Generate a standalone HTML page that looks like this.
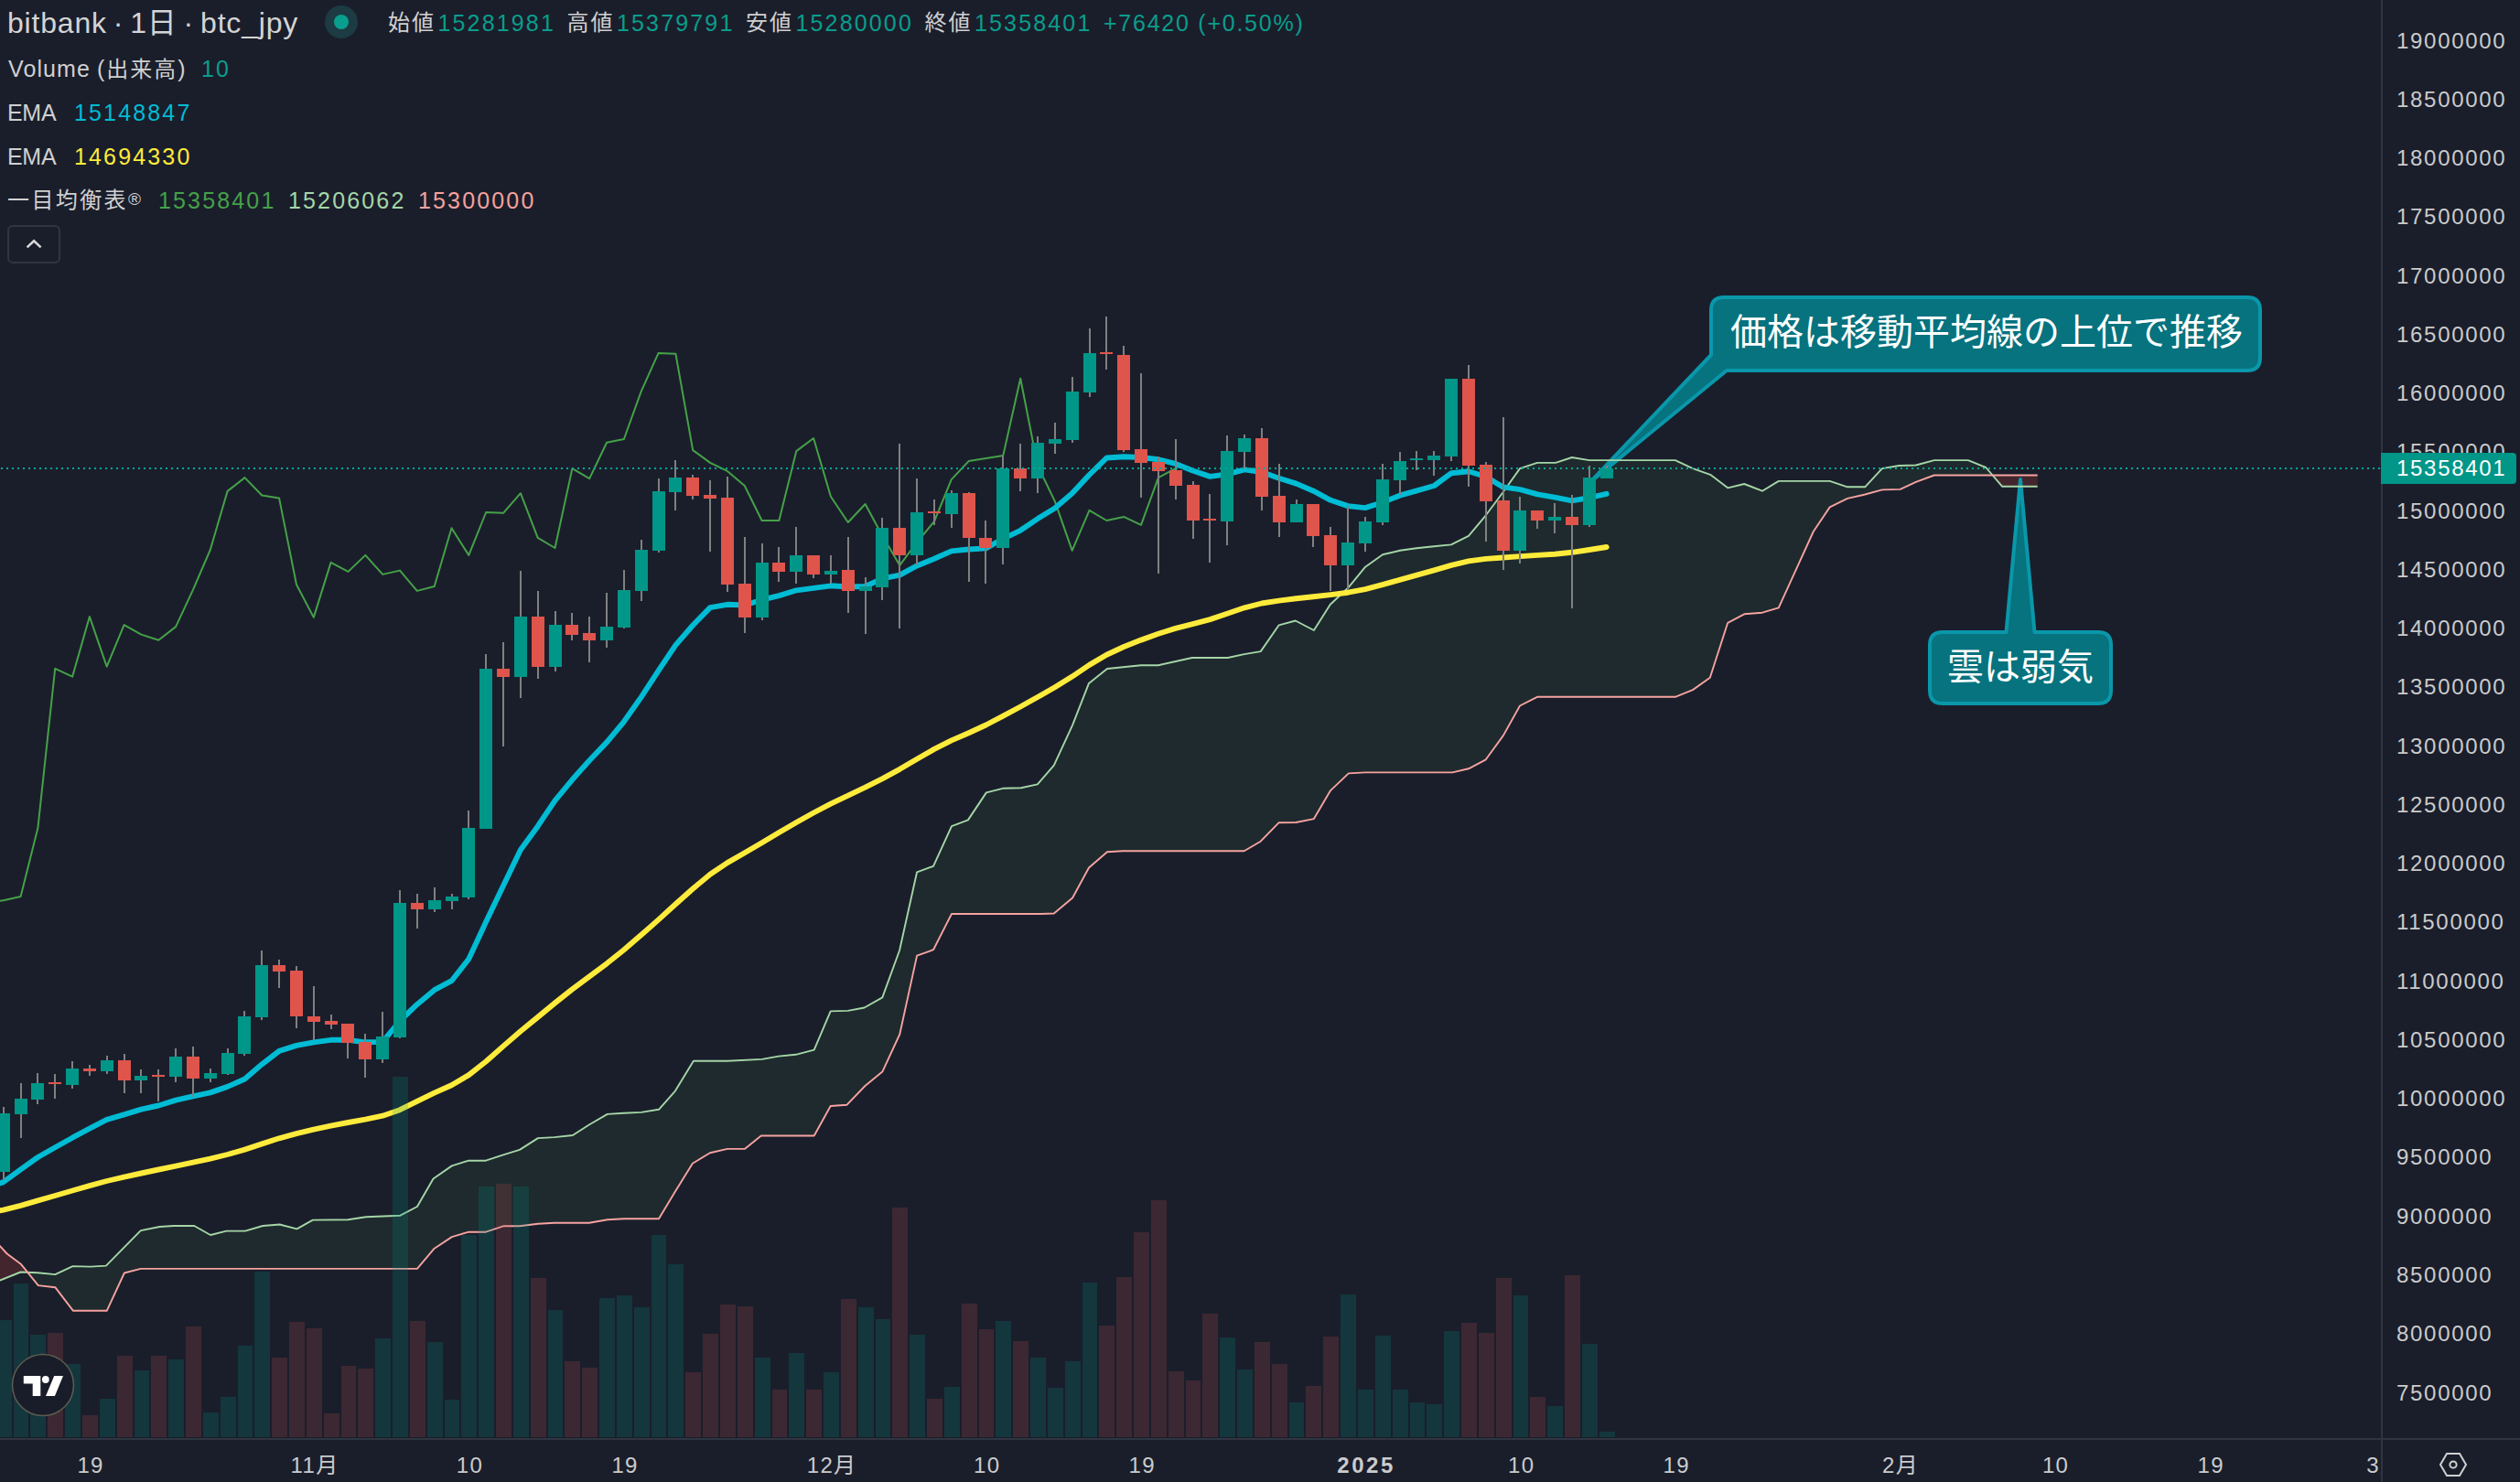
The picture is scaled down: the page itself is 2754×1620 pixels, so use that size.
<!DOCTYPE html><html lang="ja"><head><meta charset="utf-8"><title>bitbank btc_jpy</title><style>
html,body{margin:0;padding:0}body{width:2754px;height:1620px;background:#1a1e2b;overflow:hidden;position:relative;font-family:"Liberation Sans","Noto Sans CJK JP",sans-serif;color:#cfcfcf}
.t{position:absolute;white-space:nowrap;line-height:1}
.ax{font-size:24px;letter-spacing:1.7px;color:#cbcbcb;left:2619px}
.tm{font-size:24px;letter-spacing:1.35px;color:#cbcbcb;transform:translateX(-50%);top:1590px}
.lg{font-size:25px;letter-spacing:2.15px;color:#d0d0d0}.lb{font-size:25px;letter-spacing:0;color:#d0d0d0}
.v{color:#0a9d8c}
.co{font-size:40px;color:#fff;letter-spacing:0}
</style></head><body>
<svg width="2754" height="1620" viewBox="0 0 2754 1620" style="position:absolute;left:0;top:0">
<defs><clipPath id="cp"><rect x="0" y="0" width="2602" height="1572"/></clipPath>
<pattern id="hr" width="4" height="4" patternUnits="userSpaceOnUse"><rect width="4" height="4" fill="rgba(244,67,54,0.15)"/><rect width="2" height="2" fill="rgba(244,67,54,0.09)"/><rect x="2" y="2" width="2" height="2" fill="rgba(244,67,54,0.09)"/></pattern>
</defs>
<g clip-path="url(#cp)">
<path d="M-5.1 1401.3 L0.0 1399.5 L7.7 1396.4 L22.6 1390.5 L23.1 1390.5 L30.2 1390.8 L30.2 1390.8 L23.1 1382.1 L22.6 1381.7 L7.7 1370.5 L0.0 1362.1 L-5.1 1357.7Z" fill="url(#hr)"/>
<path d="M30.2 1390.8 L41.0 1391.3 L41.8 1391.4 L60.3 1393.1 L79.5 1384.1 L80.0 1384.1 L98.7 1384.6 L115.9 1383.6 L116.7 1382.8 L135.9 1363.3 L153.8 1345.1 L174.4 1341.0 L189.7 1340.0 L212.3 1340.0 L230.0 1350.0 L247.4 1345.6 L267.9 1345.6 L287.2 1340.0 L305.6 1338.5 L324.4 1343.3 L341.8 1333.6 L380.3 1333.3 L400.0 1330.3 L437.4 1328.7 L455.9 1319.0 L473.5 1288.5 L474.7 1287.6 L493.8 1274.4 L512.1 1268.7 L531.0 1268.7 L550.0 1262.3 L567.9 1256.9 L587.9 1244.1 L605.9 1243.1 L625.9 1241.0 L643.8 1229.5 L663.8 1217.9 L681.8 1216.7 L700.8 1215.9 L720.0 1212.8 L737.9 1192.6 L756.9 1161.4 L757.9 1159.7 L775.9 1159.7 L794.9 1159.7 L813.8 1158.8 L831.8 1158.0 L832.8 1157.9 L850.8 1154.6 L869.7 1152.8 L889.7 1147.7 L907.7 1105.4 L925.6 1104.9 L926.7 1104.9 L944.6 1101.5 L945.4 1101.1 L964.3 1090.4 L983.1 1038.7 L983.3 1037.8 L1002.1 953.3 L1020.0 946.9 L1040.0 903.1 L1057.9 896.4 L1077.9 866.4 L1095.9 861.8 L1115.9 861.3 L1133.8 857.4 L1137.4 853.3 L1151.8 836.7 L1172.1 792.6 L1190.0 746.9 L1210.0 731.0 L1226.9 729.3 L1246.9 727.2 L1265.9 727.2 L1302.8 719.0 L1341.8 719.0 L1359.7 715.1 L1377.7 712.1 L1397.7 683.3 L1415.8 678.5 L1416.3 678.7 L1435.9 689.0 L1453.8 660.8 L1473.1 642.8 L1473.8 641.9 L1492.1 619.7 L1511.0 606.2 L1530.0 601.8 L1547.9 599.2 L1566.9 597.2 L1585.9 595.4 L1587.2 594.7 L1604.9 585.9 L1623.8 563.3 L1642.8 537.7 L1661.0 512.1 L1680.0 505.9 L1700.0 505.9 L1717.9 500.0 L1736.9 503.1 L1830.8 503.1 L1850.0 512.1 L1868.8 518.8 L1869.1 518.8 L1888.2 533.3 L1906.2 529.0 L1925.9 536.7 L1943.8 525.9 L1962.6 525.9 L1981.8 525.9 L1999.7 525.9 L2019.0 532.3 L2038.2 532.3 L2056.9 512.1 L2075.4 509.0 L2076.7 508.9 L2093.8 508.5 L2113.8 503.1 L2151.0 503.1 L2170.3 511.0 L2177.6 519.5 L2177.6 519.5 L2170.3 519.5 L2151.0 519.5 L2113.8 519.5 L2093.8 526.9 L2076.7 534.9 L2075.4 534.9 L2056.9 535.4 L2038.2 540.5 L2019.0 544.9 L1999.7 554.4 L1981.8 581.0 L1962.6 623.1 L1943.8 664.4 L1925.9 669.7 L1906.2 671.3 L1888.2 680.8 L1869.1 740.0 L1868.8 740.8 L1850.0 754.1 L1830.8 761.8 L1736.9 761.8 L1717.9 761.8 L1700.0 761.8 L1680.0 761.8 L1661.0 771.5 L1642.8 804.1 L1623.8 830.3 L1604.9 840.3 L1587.2 844.4 L1585.9 844.4 L1566.9 844.4 L1547.9 844.4 L1530.0 844.4 L1511.0 844.4 L1492.1 844.4 L1473.8 845.4 L1473.1 846.1 L1453.8 864.4 L1435.9 895.1 L1416.3 899.0 L1415.8 899.0 L1397.7 899.2 L1377.7 919.7 L1359.7 930.3 L1341.8 930.3 L1302.8 930.3 L1265.9 930.3 L1246.9 930.3 L1226.9 930.3 L1210.0 931.3 L1190.0 948.5 L1172.1 981.5 L1151.8 998.5 L1137.4 999.0 L1133.8 999.0 L1115.9 999.0 L1095.9 999.0 L1077.9 999.0 L1057.9 999.0 L1040.0 999.0 L1020.0 1038.2 L1002.1 1044.6 L983.3 1130.5 L983.1 1130.9 L964.3 1171.6 L945.4 1187.0 L944.6 1187.8 L926.7 1206.6 L925.6 1207.7 L907.7 1209.0 L889.7 1241.5 L869.7 1241.5 L850.8 1241.5 L832.8 1241.5 L831.8 1241.5 L813.8 1255.9 L794.9 1255.9 L775.9 1260.3 L757.9 1271.2 L756.9 1271.8 L737.9 1302.6 L720.0 1332.3 L700.8 1332.3 L681.8 1332.3 L663.8 1333.3 L643.8 1336.7 L625.9 1336.7 L605.9 1336.7 L587.9 1337.7 L567.9 1340.3 L550.0 1340.3 L531.0 1346.7 L512.1 1346.7 L493.8 1352.1 L474.7 1364.7 L473.5 1366.3 L455.9 1386.9 L437.4 1386.9 L400.0 1386.9 L380.3 1386.9 L341.8 1386.9 L324.4 1386.9 L305.6 1386.9 L287.2 1386.9 L267.9 1386.9 L247.4 1386.9 L230.0 1386.9 L212.3 1386.9 L189.7 1386.9 L174.4 1386.9 L153.8 1386.9 L135.9 1391.5 L116.7 1432.8 L115.9 1432.8 L98.7 1432.8 L80.0 1432.8 L79.5 1432.2 L60.3 1407.2 L41.8 1405.1 L41.0 1404.2 L30.2 1390.8Z" fill="rgba(67,160,71,0.1)"/>
<path d="M2177.6 519.5 L2188.2 531.8 L2226.7 531.8 L2226.7 519.5 L2188.2 519.5 L2177.6 519.5Z" fill="url(#hr)"/>
<g stroke="#0a97aa" stroke-width="4" fill="#06737f" stroke-linejoin="round">
<path d="M1738 527 L1870 388 L1870 339 Q1870 325 1884 325 L2456 325 Q2470 325 2470 339 L2470 391 Q2470 405 2456 405 L1887 405 Z"/>
<path d="M2208 524 L2223.5 691 L2293 691 Q2307 691 2307 705 L2307 755 Q2307 769 2293 769 L2123 769 Q2109 769 2109 755 L2109 705 Q2109 691 2123 691 L2192.5 691 Z"/>
</g>
<path d="M-5.1 1401.3 L0.0 1399.5 L22.6 1390.5 L41.0 1391.3 L60.3 1393.1 L79.5 1384.1 L98.7 1384.6 L115.9 1383.6 L153.8 1345.1 L174.4 1341.0 L189.7 1340.0 L212.3 1340.0 L230.0 1350.0 L247.4 1345.6 L267.9 1345.6 L287.2 1340.0 L305.6 1338.5 L324.4 1343.3 L341.8 1333.6 L380.3 1333.3 L400.0 1330.3 L437.4 1328.7 L455.9 1319.0 L473.5 1288.5 L493.8 1274.4 L512.1 1268.7 L531.0 1268.7 L550.0 1262.3 L567.9 1256.9 L587.9 1244.1 L605.9 1243.1 L625.9 1241.0 L643.8 1229.5 L663.8 1217.9 L681.8 1216.7 L700.8 1215.9 L720.0 1212.8 L737.9 1192.6 L757.9 1159.7 L794.9 1159.7 L832.8 1157.9 L850.8 1154.6 L869.7 1152.8 L889.7 1147.7 L907.7 1105.4 L926.7 1104.9 L944.6 1101.5 L964.3 1090.4 L983.1 1038.7 L1002.1 953.3 L1020.0 946.9 L1040.0 903.1 L1057.9 896.4 L1077.9 866.4 L1095.9 861.8 L1115.9 861.3 L1133.8 857.4 L1151.8 836.7 L1172.1 792.6 L1190.0 746.9 L1210.0 731.0 L1246.9 727.2 L1265.9 727.2 L1302.8 719.0 L1341.8 719.0 L1359.7 715.1 L1377.7 712.1 L1397.7 683.3 L1415.8 678.5 L1435.9 689.0 L1453.8 660.8 L1473.1 642.8 L1492.1 619.7 L1511.0 606.2 L1530.0 601.8 L1547.9 599.2 L1566.9 597.2 L1585.9 595.4 L1604.9 585.9 L1623.8 563.3 L1642.8 537.7 L1661.0 512.1 L1680.0 505.9 L1700.0 505.9 L1717.9 500.0 L1736.9 503.1 L1830.8 503.1 L1850.0 512.1 L1869.1 518.8 L1888.2 533.3 L1906.2 529.0 L1925.9 536.7 L1943.8 525.9 L1999.7 525.9 L2019.0 532.3 L2038.2 532.3 L2056.9 512.1 L2075.4 509.0 L2093.8 508.5 L2113.8 503.1 L2151.0 503.1 L2170.3 511.0 L2188.2 531.8 L2226.7 531.8" fill="none" stroke="#a5d6a7" stroke-width="1.9" stroke-linejoin="round"/>
<path d="M-5.1 1357.7 L0.0 1362.1 L7.7 1370.5 L23.1 1382.1 L41.8 1405.1 L60.3 1407.2 L80.0 1432.8 L116.7 1432.8 L135.9 1391.5 L153.8 1386.9 L455.9 1386.9 L474.7 1364.7 L493.8 1352.1 L512.1 1346.7 L531.0 1346.7 L550.0 1340.3 L567.9 1340.3 L587.9 1337.7 L605.9 1336.7 L643.8 1336.7 L663.8 1333.3 L681.8 1332.3 L720.0 1332.3 L737.9 1302.6 L756.9 1271.8 L775.9 1260.3 L794.9 1255.9 L813.8 1255.9 L831.8 1241.5 L889.7 1241.5 L907.7 1209.0 L925.6 1207.7 L945.4 1187.0 L964.3 1171.6 L983.3 1130.5 L1002.1 1044.6 L1020.0 1038.2 L1040.0 999.0 L1137.4 999.0 L1151.8 998.5 L1172.1 981.5 L1190.0 948.5 L1210.0 931.3 L1226.9 930.3 L1359.7 930.3 L1377.7 919.7 L1397.7 899.2 L1416.3 899.0 L1435.9 895.1 L1453.8 864.4 L1473.8 845.4 L1492.1 844.4 L1587.2 844.4 L1604.9 840.3 L1623.8 830.3 L1642.8 804.1 L1661.0 771.5 L1680.0 761.8 L1830.8 761.8 L1850.0 754.1 L1868.8 740.8 L1888.2 680.8 L1906.2 671.3 L1925.9 669.7 L1943.8 664.4 L1962.6 623.1 L1981.8 581.0 L1999.7 554.4 L2019.0 544.9 L2038.2 540.5 L2056.9 535.4 L2076.7 534.9 L2093.8 526.9 L2113.8 519.5 L2226.7 519.5" fill="none" stroke="#f6a3a0" stroke-width="1.9" stroke-linejoin="round"/>
<path d="M-15.0 986.3 L3.7 984.3 L22.6 980.0 L41.4 905.1 L60.2 730.8 L79.1 739.7 L97.9 674.1 L116.7 728.7 L135.6 683.1 L154.4 693.6 L173.3 699.7 L192.1 685.1 L210.9 644.9 L229.8 601.0 L248.6 536.9 L267.5 522.1 L286.3 541.5 L305.1 544.6 L324.0 639.0 L342.8 674.9 L361.6 614.9 L380.5 624.9 L399.3 606.9 L418.2 627.9 L437.0 623.6 L455.8 645.9 L474.7 641.0 L493.5 577.2 L512.3 606.9 L531.2 560.0 L550.0 560.8 L568.9 539.2 L587.7 587.9 L606.5 599.0 L625.4 512.1 L644.2 523.1 L663.1 483.8 L681.9 480.0 L700.7 427.9 L719.6 385.9 L738.4 386.7 L757.2 492.1 L776.1 505.9 L794.9 514.9 L813.8 531.0 L832.6 569.0 L851.4 569.0 L870.3 493.1 L889.1 479.0 L907.9 542.8 L926.8 571.0 L945.6 551.0 L964.5 585.9 L983.3 617.9 L1002.1 592.8 L1021.0 570.0 L1039.8 524.1 L1058.6 504.1 L1077.5 501.0 L1096.3 497.9 L1115.2 413.8 L1134.0 509.0 L1152.8 547.9 L1171.7 601.8 L1190.5 557.9 L1209.4 569.0 L1228.2 564.9 L1247.0 573.8 L1265.9 522.1 L1284.7 512.1" fill="none" stroke="#45a148" stroke-width="2" stroke-linejoin="round"/>
<path d="M-15.1 1298.7 L3.7 1292.1 L22.6 1278.3 L41.4 1265.0 L60.2 1254.3 L79.1 1243.7 L97.9 1233.7 L116.7 1223.9 L135.6 1218.3 L154.4 1212.7 L173.3 1208.5 L192.1 1202.6 L210.9 1198.3 L229.8 1194.4 L248.6 1187.9 L267.5 1179.5 L286.3 1163.3 L305.1 1148.9 L324.0 1142.9 L342.8 1139.3 L361.6 1136.8 L380.5 1136.8 L399.3 1139.3 L418.2 1138.9 L437.0 1116.0 L455.8 1097.9 L474.7 1082.2 L493.5 1072.2 L512.3 1048.3 L531.2 1007.6 L550.0 968.2 L568.9 929.0 L587.7 903.2 L606.5 875.1 L625.4 852.3 L644.2 831.3 L663.1 811.4 L681.9 788.8 L700.7 762.1 L719.6 733.2 L738.4 705.1 L757.2 683.5 L776.1 664.1 L794.9 660.8 L813.8 661.5 L832.6 655.7 L851.4 651.1 L870.3 645.3 L889.1 642.8 L907.9 640.3 L926.8 641.5 L945.6 641.0 L964.5 632.4 L983.3 628.6 L1002.1 618.4 L1021.0 610.8 L1039.8 602.4 L1058.6 600.5 L1077.5 599.4 L1096.3 588.8 L1115.2 579.8 L1134.0 567.1 L1152.8 555.6 L1171.7 539.3 L1190.5 519.0 L1209.4 500.5 L1228.2 499.2 L1247.0 500.0 L1265.9 502.3 L1284.7 506.9 L1303.5 514.5 L1322.4 520.9 L1341.2 518.3 L1360.1 513.4 L1378.9 516.0 L1397.7 522.8 L1416.6 528.6 L1435.4 536.7 L1454.2 546.8 L1473.1 553.1 L1491.9 555.1 L1510.8 549.3 L1529.6 541.7 L1548.4 536.3 L1567.3 531.0 L1586.1 517.2 L1605.0 515.2 L1623.8 521.0 L1642.6 532.4 L1661.5 535.2 L1680.3 540.3 L1699.1 543.6 L1718.0 547.4 L1736.8 544.1 L1755.7 539.8" fill="none" stroke="#00bcd4" stroke-width="5.9" stroke-linejoin="round" stroke-linecap="round"/>
<path d="M-15.1 1325.9 L3.7 1322.6 L22.6 1317.8 L41.4 1312.4 L60.2 1307.0 L79.1 1301.5 L97.9 1296.1 L116.7 1291.0 L135.6 1286.6 L154.4 1282.5 L173.3 1278.5 L192.1 1274.6 L210.9 1270.7 L229.8 1266.6 L248.6 1262.0 L267.5 1256.6 L286.3 1250.4 L305.1 1244.3 L324.0 1239.1 L342.8 1234.6 L361.6 1230.6 L380.5 1227.0 L399.3 1223.7 L418.2 1219.7 L437.0 1213.2 L455.8 1203.8 L474.7 1194.6 L493.5 1186.2 L512.3 1175.1 L531.2 1160.2 L550.0 1143.6 L568.9 1127.3 L587.7 1111.9 L606.5 1096.4 L625.4 1081.4 L644.2 1067.3 L663.1 1053.3 L681.9 1038.3 L700.7 1022.1 L719.6 1005.4 L738.4 988.3 L757.2 971.5 L776.1 955.8 L794.9 943.1 L813.8 932.3 L832.6 921.2 L851.4 910.0 L870.3 899.0 L889.1 888.5 L907.9 878.7 L926.8 869.6 L945.6 860.7 L964.5 851.2 L983.3 840.8 L1002.1 829.7 L1021.0 818.9 L1039.8 809.4 L1058.6 801.2 L1077.5 792.5 L1096.3 782.7 L1115.2 772.5 L1134.0 762.0 L1152.8 751.2 L1171.7 739.6 L1190.5 726.9 L1209.4 715.7 L1228.2 707.0 L1247.0 699.6 L1265.9 692.8 L1284.7 686.9 L1303.5 682.1 L1322.4 677.1 L1341.2 670.8 L1360.1 664.3 L1378.9 659.5 L1397.7 656.6 L1416.6 654.3 L1435.4 652.2 L1454.2 650.1 L1473.1 647.7 L1491.9 644.1 L1510.8 639.2 L1529.6 633.9 L1548.4 628.7 L1567.3 623.4 L1586.1 617.8 L1605.0 613.4 L1623.8 610.9 L1642.6 609.5 L1661.5 608.1 L1680.3 606.9 L1699.1 605.8 L1718.0 603.8 L1736.8 601.0 L1755.7 598.0" fill="none" stroke="#ffeb3b" stroke-width="5.9" stroke-linejoin="round" stroke-linecap="round"/>
<rect x="-4" y="1443" width="17" height="128" fill="rgba(0,150,136,0.2)"/>
<rect x="15" y="1403" width="16" height="168" fill="rgba(0,150,136,0.2)"/>
<rect x="33" y="1459" width="17" height="112" fill="rgba(0,150,136,0.2)"/>
<rect x="52" y="1457" width="17" height="114" fill="rgba(201,80,78,0.2)"/>
<rect x="71" y="1491" width="17" height="80" fill="rgba(0,150,136,0.2)"/>
<rect x="90" y="1547" width="17" height="24" fill="rgba(201,80,78,0.2)"/>
<rect x="109" y="1529" width="17" height="42" fill="rgba(0,150,136,0.2)"/>
<rect x="128" y="1482" width="17" height="89" fill="rgba(201,80,78,0.2)"/>
<rect x="147" y="1498" width="16" height="73" fill="rgba(0,150,136,0.2)"/>
<rect x="165" y="1482" width="17" height="89" fill="rgba(201,80,78,0.2)"/>
<rect x="184" y="1486" width="17" height="85" fill="rgba(0,150,136,0.2)"/>
<rect x="203" y="1450" width="17" height="121" fill="rgba(201,80,78,0.2)"/>
<rect x="222" y="1544" width="17" height="27" fill="rgba(0,150,136,0.2)"/>
<rect x="241" y="1527" width="17" height="44" fill="rgba(0,150,136,0.2)"/>
<rect x="260" y="1471" width="16" height="100" fill="rgba(0,150,136,0.2)"/>
<rect x="278" y="1390" width="17" height="181" fill="rgba(0,150,136,0.2)"/>
<rect x="297" y="1484" width="17" height="87" fill="rgba(201,80,78,0.2)"/>
<rect x="316" y="1445" width="17" height="126" fill="rgba(201,80,78,0.2)"/>
<rect x="335" y="1452" width="17" height="119" fill="rgba(201,80,78,0.2)"/>
<rect x="354" y="1545" width="17" height="26" fill="rgba(201,80,78,0.2)"/>
<rect x="373" y="1493" width="16" height="78" fill="rgba(201,80,78,0.2)"/>
<rect x="391" y="1496" width="17" height="75" fill="rgba(201,80,78,0.2)"/>
<rect x="410" y="1463" width="17" height="108" fill="rgba(0,150,136,0.2)"/>
<rect x="429" y="1177" width="17" height="394" fill="rgba(0,150,136,0.2)"/>
<rect x="448" y="1444" width="17" height="127" fill="rgba(201,80,78,0.2)"/>
<rect x="467" y="1467" width="17" height="104" fill="rgba(0,150,136,0.2)"/>
<rect x="486" y="1530" width="16" height="41" fill="rgba(0,150,136,0.2)"/>
<rect x="504" y="1350" width="17" height="221" fill="rgba(0,150,136,0.2)"/>
<rect x="523" y="1297" width="17" height="274" fill="rgba(0,150,136,0.2)"/>
<rect x="542" y="1294" width="17" height="277" fill="rgba(201,80,78,0.2)"/>
<rect x="561" y="1297" width="17" height="274" fill="rgba(0,150,136,0.2)"/>
<rect x="580" y="1397" width="17" height="174" fill="rgba(201,80,78,0.2)"/>
<rect x="599" y="1432" width="16" height="139" fill="rgba(0,150,136,0.2)"/>
<rect x="617" y="1488" width="17" height="83" fill="rgba(201,80,78,0.2)"/>
<rect x="636" y="1495" width="17" height="76" fill="rgba(201,80,78,0.2)"/>
<rect x="655" y="1419" width="17" height="152" fill="rgba(0,150,136,0.2)"/>
<rect x="674" y="1416" width="17" height="155" fill="rgba(0,150,136,0.2)"/>
<rect x="693" y="1429" width="17" height="142" fill="rgba(0,150,136,0.2)"/>
<rect x="712" y="1350" width="16" height="221" fill="rgba(0,150,136,0.2)"/>
<rect x="730" y="1382" width="17" height="189" fill="rgba(0,150,136,0.2)"/>
<rect x="749" y="1500" width="17" height="71" fill="rgba(201,80,78,0.2)"/>
<rect x="768" y="1458" width="17" height="113" fill="rgba(201,80,78,0.2)"/>
<rect x="787" y="1426" width="17" height="145" fill="rgba(201,80,78,0.2)"/>
<rect x="806" y="1428" width="17" height="143" fill="rgba(201,80,78,0.2)"/>
<rect x="825" y="1484" width="17" height="87" fill="rgba(0,150,136,0.2)"/>
<rect x="844" y="1519" width="16" height="52" fill="rgba(201,80,78,0.2)"/>
<rect x="862" y="1479" width="17" height="92" fill="rgba(0,150,136,0.2)"/>
<rect x="881" y="1519" width="17" height="52" fill="rgba(201,80,78,0.2)"/>
<rect x="900" y="1500" width="17" height="71" fill="rgba(0,150,136,0.2)"/>
<rect x="919" y="1420" width="17" height="151" fill="rgba(201,80,78,0.2)"/>
<rect x="938" y="1429" width="17" height="142" fill="rgba(0,150,136,0.2)"/>
<rect x="957" y="1442" width="16" height="129" fill="rgba(0,150,136,0.2)"/>
<rect x="975" y="1320" width="17" height="251" fill="rgba(201,80,78,0.2)"/>
<rect x="994" y="1459" width="17" height="112" fill="rgba(0,150,136,0.2)"/>
<rect x="1013" y="1529" width="17" height="42" fill="rgba(201,80,78,0.2)"/>
<rect x="1032" y="1516" width="17" height="55" fill="rgba(0,150,136,0.2)"/>
<rect x="1051" y="1425" width="17" height="146" fill="rgba(201,80,78,0.2)"/>
<rect x="1070" y="1453" width="16" height="118" fill="rgba(201,80,78,0.2)"/>
<rect x="1088" y="1444" width="17" height="127" fill="rgba(0,150,136,0.2)"/>
<rect x="1107" y="1466" width="17" height="105" fill="rgba(201,80,78,0.2)"/>
<rect x="1126" y="1484" width="17" height="87" fill="rgba(0,150,136,0.2)"/>
<rect x="1145" y="1517" width="17" height="54" fill="rgba(0,150,136,0.2)"/>
<rect x="1164" y="1488" width="17" height="83" fill="rgba(0,150,136,0.2)"/>
<rect x="1183" y="1402" width="16" height="169" fill="rgba(0,150,136,0.2)"/>
<rect x="1201" y="1449" width="17" height="122" fill="rgba(201,80,78,0.2)"/>
<rect x="1220" y="1396" width="17" height="175" fill="rgba(201,80,78,0.2)"/>
<rect x="1239" y="1347" width="17" height="224" fill="rgba(201,80,78,0.2)"/>
<rect x="1258" y="1312" width="17" height="259" fill="rgba(201,80,78,0.2)"/>
<rect x="1277" y="1499" width="17" height="72" fill="rgba(201,80,78,0.2)"/>
<rect x="1296" y="1509" width="16" height="62" fill="rgba(201,80,78,0.2)"/>
<rect x="1314" y="1436" width="17" height="135" fill="rgba(201,80,78,0.2)"/>
<rect x="1333" y="1462" width="17" height="109" fill="rgba(0,150,136,0.2)"/>
<rect x="1352" y="1497" width="17" height="74" fill="rgba(0,150,136,0.2)"/>
<rect x="1371" y="1467" width="17" height="104" fill="rgba(201,80,78,0.2)"/>
<rect x="1390" y="1491" width="17" height="80" fill="rgba(201,80,78,0.2)"/>
<rect x="1409" y="1533" width="16" height="38" fill="rgba(0,150,136,0.2)"/>
<rect x="1427" y="1515" width="17" height="56" fill="rgba(201,80,78,0.2)"/>
<rect x="1446" y="1461" width="17" height="110" fill="rgba(201,80,78,0.2)"/>
<rect x="1465" y="1415" width="17" height="156" fill="rgba(0,150,136,0.2)"/>
<rect x="1484" y="1519" width="17" height="52" fill="rgba(0,150,136,0.2)"/>
<rect x="1503" y="1460" width="17" height="111" fill="rgba(0,150,136,0.2)"/>
<rect x="1522" y="1519" width="17" height="52" fill="rgba(0,150,136,0.2)"/>
<rect x="1541" y="1533" width="16" height="38" fill="rgba(0,150,136,0.2)"/>
<rect x="1559" y="1535" width="17" height="36" fill="rgba(0,150,136,0.2)"/>
<rect x="1578" y="1455" width="17" height="116" fill="rgba(0,150,136,0.2)"/>
<rect x="1597" y="1446" width="17" height="125" fill="rgba(201,80,78,0.2)"/>
<rect x="1616" y="1457" width="17" height="114" fill="rgba(201,80,78,0.2)"/>
<rect x="1635" y="1397" width="17" height="174" fill="rgba(201,80,78,0.2)"/>
<rect x="1654" y="1416" width="16" height="155" fill="rgba(0,150,136,0.2)"/>
<rect x="1672" y="1527" width="17" height="44" fill="rgba(201,80,78,0.2)"/>
<rect x="1691" y="1537" width="17" height="34" fill="rgba(0,150,136,0.2)"/>
<rect x="1710" y="1394" width="17" height="177" fill="rgba(201,80,78,0.2)"/>
<rect x="1729" y="1469" width="17" height="102" fill="rgba(0,150,136,0.2)"/>
<rect x="1748" y="1565" width="17" height="6" fill="rgba(0,150,136,0.2)"/>
<rect x="3" y="1210" width="2" height="80" fill="#808080"/>
<rect x="-3" y="1217" width="14" height="64" fill="#009688"/>
<rect x="22" y="1184" width="2" height="60" fill="#808080"/>
<rect x="16" y="1201" width="14" height="17" fill="#009688"/>
<rect x="40" y="1173" width="2" height="34" fill="#808080"/>
<rect x="34" y="1184" width="14" height="18" fill="#009688"/>
<rect x="59" y="1174" width="2" height="27" fill="#808080"/>
<rect x="53" y="1183" width="14" height="2" fill="#df544b"/>
<rect x="78" y="1160" width="2" height="30" fill="#808080"/>
<rect x="72" y="1168" width="14" height="18" fill="#009688"/>
<rect x="97" y="1164" width="2" height="12" fill="#808080"/>
<rect x="91" y="1168" width="14" height="3" fill="#df544b"/>
<rect x="116" y="1154" width="2" height="20" fill="#808080"/>
<rect x="110" y="1159" width="14" height="12" fill="#009688"/>
<rect x="135" y="1152" width="2" height="43" fill="#808080"/>
<rect x="129" y="1159" width="14" height="22" fill="#df544b"/>
<rect x="153" y="1169" width="2" height="26" fill="#808080"/>
<rect x="147" y="1176" width="14" height="5" fill="#009688"/>
<rect x="172" y="1169" width="2" height="35" fill="#808080"/>
<rect x="166" y="1175" width="14" height="2" fill="#df544b"/>
<rect x="191" y="1146" width="2" height="37" fill="#808080"/>
<rect x="185" y="1155" width="14" height="22" fill="#009688"/>
<rect x="210" y="1144" width="2" height="55" fill="#808080"/>
<rect x="204" y="1155" width="14" height="24" fill="#df544b"/>
<rect x="229" y="1168" width="2" height="15" fill="#808080"/>
<rect x="223" y="1173" width="14" height="6" fill="#009688"/>
<rect x="248" y="1146" width="2" height="29" fill="#808080"/>
<rect x="242" y="1151" width="14" height="23" fill="#009688"/>
<rect x="266" y="1105" width="2" height="49" fill="#808080"/>
<rect x="260" y="1111" width="14" height="41" fill="#009688"/>
<rect x="285" y="1039" width="2" height="76" fill="#808080"/>
<rect x="279" y="1055" width="14" height="57" fill="#009688"/>
<rect x="304" y="1049" width="2" height="31" fill="#808080"/>
<rect x="298" y="1055" width="14" height="7" fill="#df544b"/>
<rect x="323" y="1056" width="2" height="68" fill="#808080"/>
<rect x="317" y="1061" width="14" height="50" fill="#df544b"/>
<rect x="342" y="1078" width="2" height="59" fill="#808080"/>
<rect x="336" y="1111" width="14" height="6" fill="#df544b"/>
<rect x="361" y="1109" width="2" height="16" fill="#808080"/>
<rect x="355" y="1116" width="14" height="4" fill="#df544b"/>
<rect x="379" y="1119" width="2" height="38" fill="#808080"/>
<rect x="373" y="1119" width="14" height="21" fill="#df544b"/>
<rect x="398" y="1130" width="2" height="48" fill="#808080"/>
<rect x="392" y="1139" width="14" height="19" fill="#df544b"/>
<rect x="417" y="1106" width="2" height="56" fill="#808080"/>
<rect x="411" y="1133" width="14" height="25" fill="#009688"/>
<rect x="436" y="973" width="2" height="162" fill="#808080"/>
<rect x="430" y="987" width="14" height="147" fill="#009688"/>
<rect x="455" y="977" width="2" height="38" fill="#808080"/>
<rect x="449" y="987" width="14" height="7" fill="#df544b"/>
<rect x="474" y="970" width="2" height="27" fill="#808080"/>
<rect x="468" y="984" width="14" height="10" fill="#009688"/>
<rect x="493" y="977" width="2" height="17" fill="#808080"/>
<rect x="487" y="980" width="14" height="5" fill="#009688"/>
<rect x="511" y="886" width="2" height="97" fill="#808080"/>
<rect x="505" y="905" width="14" height="76" fill="#009688"/>
<rect x="530" y="715" width="2" height="191" fill="#808080"/>
<rect x="524" y="731" width="14" height="175" fill="#009688"/>
<rect x="549" y="702" width="2" height="114" fill="#808080"/>
<rect x="543" y="731" width="14" height="9" fill="#df544b"/>
<rect x="568" y="624" width="2" height="139" fill="#808080"/>
<rect x="562" y="674" width="14" height="66" fill="#009688"/>
<rect x="587" y="646" width="2" height="96" fill="#808080"/>
<rect x="581" y="674" width="14" height="55" fill="#df544b"/>
<rect x="606" y="668" width="2" height="66" fill="#808080"/>
<rect x="600" y="683" width="14" height="46" fill="#009688"/>
<rect x="624" y="670" width="2" height="30" fill="#808080"/>
<rect x="618" y="683" width="14" height="11" fill="#df544b"/>
<rect x="643" y="674" width="2" height="50" fill="#808080"/>
<rect x="637" y="692" width="14" height="8" fill="#df544b"/>
<rect x="662" y="648" width="2" height="60" fill="#808080"/>
<rect x="656" y="685" width="14" height="15" fill="#009688"/>
<rect x="681" y="623" width="2" height="64" fill="#808080"/>
<rect x="675" y="645" width="14" height="41" fill="#009688"/>
<rect x="700" y="590" width="2" height="67" fill="#808080"/>
<rect x="694" y="601" width="14" height="45" fill="#009688"/>
<rect x="719" y="523" width="2" height="81" fill="#808080"/>
<rect x="713" y="537" width="14" height="65" fill="#009688"/>
<rect x="737" y="503" width="2" height="55" fill="#808080"/>
<rect x="731" y="522" width="14" height="16" fill="#009688"/>
<rect x="756" y="519" width="2" height="27" fill="#808080"/>
<rect x="750" y="522" width="14" height="20" fill="#df544b"/>
<rect x="775" y="525" width="2" height="78" fill="#808080"/>
<rect x="769" y="541" width="14" height="4" fill="#df544b"/>
<rect x="794" y="521" width="2" height="126" fill="#808080"/>
<rect x="788" y="544" width="14" height="95" fill="#df544b"/>
<rect x="813" y="587" width="2" height="105" fill="#808080"/>
<rect x="807" y="638" width="14" height="37" fill="#df544b"/>
<rect x="832" y="594" width="2" height="84" fill="#808080"/>
<rect x="826" y="615" width="14" height="60" fill="#009688"/>
<rect x="850" y="598" width="2" height="38" fill="#808080"/>
<rect x="844" y="615" width="14" height="10" fill="#df544b"/>
<rect x="869" y="576" width="2" height="62" fill="#808080"/>
<rect x="863" y="607" width="14" height="18" fill="#009688"/>
<rect x="888" y="607" width="2" height="25" fill="#808080"/>
<rect x="882" y="607" width="14" height="21" fill="#df544b"/>
<rect x="907" y="607" width="2" height="31" fill="#808080"/>
<rect x="901" y="624" width="14" height="4" fill="#009688"/>
<rect x="926" y="587" width="2" height="83" fill="#808080"/>
<rect x="920" y="623" width="14" height="23" fill="#df544b"/>
<rect x="945" y="631" width="2" height="62" fill="#808080"/>
<rect x="939" y="641" width="14" height="5" fill="#009688"/>
<rect x="963" y="566" width="2" height="90" fill="#808080"/>
<rect x="957" y="577" width="14" height="65" fill="#009688"/>
<rect x="982" y="485" width="2" height="202" fill="#808080"/>
<rect x="976" y="577" width="14" height="30" fill="#df544b"/>
<rect x="1001" y="523" width="2" height="95" fill="#808080"/>
<rect x="995" y="560" width="14" height="47" fill="#009688"/>
<rect x="1020" y="546" width="2" height="28" fill="#808080"/>
<rect x="1014" y="559" width="14" height="2" fill="#df544b"/>
<rect x="1039" y="536" width="2" height="41" fill="#808080"/>
<rect x="1033" y="539" width="14" height="23" fill="#009688"/>
<rect x="1058" y="538" width="2" height="98" fill="#808080"/>
<rect x="1052" y="539" width="14" height="49" fill="#df544b"/>
<rect x="1076" y="569" width="2" height="69" fill="#808080"/>
<rect x="1070" y="588" width="14" height="11" fill="#df544b"/>
<rect x="1095" y="498" width="2" height="119" fill="#808080"/>
<rect x="1089" y="512" width="14" height="87" fill="#009688"/>
<rect x="1114" y="485" width="2" height="52" fill="#808080"/>
<rect x="1108" y="512" width="14" height="11" fill="#df544b"/>
<rect x="1133" y="477" width="2" height="62" fill="#808080"/>
<rect x="1127" y="484" width="14" height="39" fill="#009688"/>
<rect x="1152" y="462" width="2" height="34" fill="#808080"/>
<rect x="1146" y="480" width="14" height="5" fill="#009688"/>
<rect x="1171" y="412" width="2" height="72" fill="#808080"/>
<rect x="1165" y="428" width="14" height="53" fill="#009688"/>
<rect x="1190" y="359" width="2" height="75" fill="#808080"/>
<rect x="1184" y="386" width="14" height="43" fill="#009688"/>
<rect x="1208" y="346" width="2" height="58" fill="#808080"/>
<rect x="1202" y="385" width="14" height="2" fill="#df544b"/>
<rect x="1227" y="378" width="2" height="116" fill="#808080"/>
<rect x="1221" y="388" width="14" height="104" fill="#df544b"/>
<rect x="1246" y="408" width="2" height="136" fill="#808080"/>
<rect x="1240" y="491" width="14" height="15" fill="#df544b"/>
<rect x="1265" y="499" width="2" height="128" fill="#808080"/>
<rect x="1259" y="505" width="14" height="10" fill="#df544b"/>
<rect x="1284" y="480" width="2" height="66" fill="#808080"/>
<rect x="1278" y="514" width="14" height="17" fill="#df544b"/>
<rect x="1303" y="526" width="2" height="63" fill="#808080"/>
<rect x="1297" y="530" width="14" height="39" fill="#df544b"/>
<rect x="1321" y="540" width="2" height="75" fill="#808080"/>
<rect x="1315" y="567" width="14" height="2" fill="#df544b"/>
<rect x="1340" y="476" width="2" height="120" fill="#808080"/>
<rect x="1334" y="493" width="14" height="77" fill="#009688"/>
<rect x="1359" y="475" width="2" height="37" fill="#808080"/>
<rect x="1353" y="479" width="14" height="15" fill="#009688"/>
<rect x="1378" y="468" width="2" height="90" fill="#808080"/>
<rect x="1372" y="479" width="14" height="64" fill="#df544b"/>
<rect x="1397" y="507" width="2" height="80" fill="#808080"/>
<rect x="1391" y="542" width="14" height="29" fill="#df544b"/>
<rect x="1416" y="546" width="2" height="25" fill="#808080"/>
<rect x="1410" y="551" width="14" height="20" fill="#009688"/>
<rect x="1434" y="551" width="2" height="47" fill="#808080"/>
<rect x="1428" y="551" width="14" height="35" fill="#df544b"/>
<rect x="1453" y="576" width="2" height="70" fill="#808080"/>
<rect x="1447" y="585" width="14" height="33" fill="#df544b"/>
<rect x="1472" y="553" width="2" height="92" fill="#808080"/>
<rect x="1466" y="593" width="14" height="25" fill="#009688"/>
<rect x="1491" y="565" width="2" height="38" fill="#808080"/>
<rect x="1485" y="570" width="14" height="24" fill="#009688"/>
<rect x="1510" y="507" width="2" height="67" fill="#808080"/>
<rect x="1504" y="524" width="14" height="47" fill="#009688"/>
<rect x="1529" y="494" width="2" height="47" fill="#808080"/>
<rect x="1523" y="504" width="14" height="21" fill="#009688"/>
<rect x="1547" y="493" width="2" height="21" fill="#808080"/>
<rect x="1541" y="501" width="14" height="2" fill="#009688"/>
<rect x="1566" y="493" width="2" height="27" fill="#808080"/>
<rect x="1560" y="498" width="14" height="5" fill="#009688"/>
<rect x="1585" y="414" width="2" height="90" fill="#808080"/>
<rect x="1579" y="414" width="14" height="85" fill="#009688"/>
<rect x="1604" y="399" width="2" height="133" fill="#808080"/>
<rect x="1598" y="414" width="14" height="95" fill="#df544b"/>
<rect x="1623" y="505" width="2" height="87" fill="#808080"/>
<rect x="1617" y="508" width="14" height="40" fill="#df544b"/>
<rect x="1642" y="456" width="2" height="167" fill="#808080"/>
<rect x="1636" y="547" width="14" height="55" fill="#df544b"/>
<rect x="1660" y="543" width="2" height="73" fill="#808080"/>
<rect x="1654" y="558" width="14" height="44" fill="#009688"/>
<rect x="1679" y="558" width="2" height="20" fill="#808080"/>
<rect x="1673" y="558" width="14" height="11" fill="#df544b"/>
<rect x="1698" y="550" width="2" height="33" fill="#808080"/>
<rect x="1692" y="565" width="14" height="4" fill="#009688"/>
<rect x="1717" y="541" width="2" height="124" fill="#808080"/>
<rect x="1711" y="565" width="14" height="9" fill="#df544b"/>
<rect x="1736" y="509" width="2" height="67" fill="#808080"/>
<rect x="1730" y="522" width="14" height="52" fill="#009688"/>
<rect x="1755" y="509" width="2" height="14" fill="#808080"/>
<rect x="1749" y="512" width="14" height="11" fill="#009688"/>
<line x1="1" y1="512" x2="2602" y2="512" stroke="#00a896" stroke-width="2" stroke-dasharray="2 4"/>
</g>
<rect x="2602" y="0" width="2" height="1620" fill="#2e3440"/>
<rect x="0" y="1572" width="2754" height="2" fill="#2e3440"/>
<rect x="9" y="247" width="56" height="40" rx="5" fill="none" stroke="#2e3641" stroke-width="2"/>
<path d="M29.6 270.4 L37.1 263.4 L44.6 270.4" fill="none" stroke="#d9d9d9" stroke-width="2.6"/>
<circle cx="373" cy="24" r="18" fill="#1c3b43"/><circle cx="373" cy="24" r="8" fill="#0a9e8e"/>
<circle cx="47" cy="1514" r="33.5" fill="#191d29" stroke="#5e5c50" stroke-width="1.5"/>
<path d="M25.8 1504 H44.3 V1526.1 H35.7 V1512.4 H25.8 Z M59.2 1504 H69 L59.9 1526.1 H50 Z" fill="#fff"/><circle cx="49.8" cy="1508" r="3.9" fill="#fff"/>
<g fill="none" stroke="#d0d0d0" stroke-width="2"><path d="M2667 1601 L2674 1589 H2688 L2695 1601 L2688 1613 H2674 Z"/><circle cx="2681" cy="1601" r="3.6"/></g>
</svg>
<div class="t ax" style="top:32.5px">19000000</div>
<div class="t ax" style="top:96.8px">18500000</div>
<div class="t ax" style="top:161.0px">18000000</div>
<div class="t ax" style="top:225.3px">17500000</div>
<div class="t ax" style="top:289.5px">17000000</div>
<div class="t ax" style="top:353.8px">16500000</div>
<div class="t ax" style="top:418.1px">16000000</div>
<div class="t ax" style="top:482.3px">15500000</div>
<div class="t ax" style="top:546.6px">15000000</div>
<div class="t ax" style="top:610.8px">14500000</div>
<div class="t ax" style="top:675.1px">14000000</div>
<div class="t ax" style="top:739.4px">13500000</div>
<div class="t ax" style="top:803.6px">13000000</div>
<div class="t ax" style="top:867.9px">12500000</div>
<div class="t ax" style="top:932.1px">12000000</div>
<div class="t ax" style="top:996.4px">11500000</div>
<div class="t ax" style="top:1060.7px">11000000</div>
<div class="t ax" style="top:1124.9px">10500000</div>
<div class="t ax" style="top:1189.2px">10000000</div>
<div class="t ax" style="top:1253.4px">9500000</div>
<div class="t ax" style="top:1317.7px">9000000</div>
<div class="t ax" style="top:1382.0px">8500000</div>
<div class="t ax" style="top:1446.2px">8000000</div>
<div class="t ax" style="top:1510.5px">7500000</div>
<div style="position:absolute;left:2602px;top:495px;width:148px;height:34px;background:#009688;border-radius:0 4px 4px 0"></div>
<div class="t ax" style="top:500px;color:#fff">15358401</div>
<div class="t tm" style="left:99.1px;">19</div>
<div class="t tm" style="left:344.0px;">11月</div>
<div class="t tm" style="left:513.5px;">10</div>
<div class="t tm" style="left:683.1px;">19</div>
<div class="t tm" style="left:909.1px;">12月</div>
<div class="t tm" style="left:1078.7px;">10</div>
<div class="t tm" style="left:1248.2px;">19</div>
<div class="t tm" style="left:1493.1px;font-weight:bold;letter-spacing:2.6px;">2025</div>
<div class="t tm" style="left:1662.7px;">10</div>
<div class="t tm" style="left:1832.2px;">19</div>
<div class="t tm" style="left:2077.1px;">2月</div>
<div class="t tm" style="left:2246.6px;">10</div>
<div class="t tm" style="left:2416.2px;">19</div>
<div style="position:absolute;left:2560px;top:1576px;width:42px;height:44px;overflow:hidden"><div class="t tm" style="left:46.4px;top:14px">3月</div></div>
<div class="t" style="left:8px;top:9px;font-size:32px;letter-spacing:0.8px;word-spacing:-2.7px;color:#d4d4d4">bitbank · 1日 · btc_jpy</div>
<div class="t lb" style="left:424.0px;top:13px;font-size:24px;letter-spacing:2px">始値</div>
<div class="t lg v" style="left:478.5px;top:13px">15281981</div>
<div class="t lb" style="left:619.5px;top:13px;font-size:24px;letter-spacing:2px">高値</div>
<div class="t lg v" style="left:674.0px;top:13px">15379791</div>
<div class="t lb" style="left:815.0px;top:13px;font-size:24px;letter-spacing:2px">安値</div>
<div class="t lg v" style="left:869.5px;top:13px">15280000</div>
<div class="t lb" style="left:1010.5px;top:13px;font-size:24px;letter-spacing:2px">終値</div>
<div class="t lg v" style="left:1065.0px;top:13px">15358401</div>
<div class="t lg v" style="left:1206px;top:13px;letter-spacing:1.75px">+76420 (+0.50%)</div>
<div class="t lb" style="left:9px;top:63px;letter-spacing:1.1px">Volume</div><div class="t lb" style="left:106px;top:63px;font-size:24px;letter-spacing:2px"><span style="font-size:25px">(</span>出来高<span style="font-size:25px">)</span></div><div class="t lg v" style="left:220px;top:63px">10</div>
<div class="t lb" style="left:8px;top:111px;letter-spacing:-0.3px">EMA</div><div class="t lg" style="left:81px;top:111px;color:#00bcd4">15148847</div>
<div class="t lb" style="left:8px;top:159px;letter-spacing:-0.3px">EMA</div><div class="t lg" style="left:81px;top:159px;color:#ffeb3b">14694330</div>
<div class="t lb" style="left:8px;top:207px;font-size:24px;letter-spacing:2.4px">一目均衡表<span style="font-size:19px;vertical-align:3px;letter-spacing:0">®</span></div>
<div class="t lg" style="left:173px;top:207px;color:#45a148">15358401</div>
<div class="t lg" style="left:315px;top:207px;color:#a5d6a7">15206062</div>
<div class="t lg" style="left:457px;top:207px;color:#f4a19d">15300000</div>
<div class="t co" style="left:1891px;top:343px">価格は移動平均線の上位で推移</div>
<div class="t co" style="left:2128px;top:709px">雲は弱気</div>
</body></html>
